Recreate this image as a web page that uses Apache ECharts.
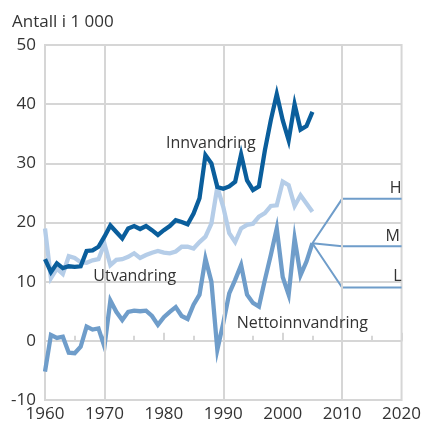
<!DOCTYPE html>
<html>
<head>
<meta charset="utf-8">
<script src="https://cdn.jsdelivr.net/npm/echarts@6/dist/echarts.min.js"></script>
<style>
html,body{margin:0;padding:0;background:#fff;}
#chart{width:424px;height:427px;}
</style>
</head>
<body>
<div id="chart"></div>
<script>
const years = [1960,1961,1962,1963,1964,1965,1966,1967,1968,1969,1970,1971,1972,1973,1974,1975,1976,1977,1978,1979,1980,1981,1982,1983,1984,1985,1986,1987,1988,1989,1990,1991,1992,1993,1994,1995,1996,1997,1998,1999,2000,2001,2002,2003,2004,2005];
const innvandring = [13.8,11.6,13.1,12.3,12.6,12.5,12.6,15.2,15.3,15.9,17.6,19.5,18.4,17.3,19.0,19.4,18.9,19.4,18.7,17.9,18.7,19.4,20.4,20.1,19.7,21.5,24.1,31.4,30.0,26.0,25.7,26.1,26.9,31.5,27.1,25.5,26.1,32.2,37.3,41.7,37.3,33.9,40.0,35.7,36.3,38.7];
const utvandring = [19.0,10.6,12.2,11.3,14.3,14.0,13.3,13.2,13.6,13.8,16.4,12.8,13.7,13.8,14.2,14.8,14.0,14.5,14.9,15.2,14.9,14.8,15.1,15.9,15.9,15.6,16.7,17.6,19.8,26.0,22.6,18.2,16.7,19.0,19.6,19.8,21.0,21.6,22.8,22.9,26.9,26.3,22.8,24.6,23.2,21.8];
const netto = [-5.2,1.0,0.5,0.7,-2.0,-2.1,-1.0,2.4,1.9,2.1,-1.0,6.8,4.9,3.5,4.9,5.1,5.0,5.1,4.2,2.7,4.0,4.9,5.7,4.2,3.7,6.1,7.8,13.9,10.0,-1.5,3.0,8.0,10.3,12.8,7.8,6.4,5.8,10.3,14.5,19.0,10.8,7.8,17.3,11.1,13.4,16.5];
const projYears = [2005,2010,2020];
const projH = [16.5,24,24];
const projM = [16.5,16,16];
const projL = [16.5,9,9];
const xTicks = [1960,1970,1980,1990,2000,2010,2020];
const yTicks = [-10,0,10,20,30,40,50];
const vGridYears = [1970,1990,2010];

const pair = (xs, ys) => xs.map((x,i)=>[x, ys[i]]);
const C_DARK = '#0a5e9c', C_LIGHT = '#b5cde8', C_MID = '#6f9dca';
const GRAY = '#d6d6d6', TXT = '#333333';
const FONT = '"Open Sans", "DejaVu Sans", sans-serif';

function textPoint(name, x, y, align){
  return {coord:[x,y], symbol:'circle', symbolSize:0,
    label:{show:true, position:'inside', formatter:name, color:TXT, fontSize:16, fontFamily:FONT, align:align||'center', verticalAlign:'middle'}};
}

const chart = echarts.init(document.getElementById('chart'), null, {renderer:'canvas'});
chart.setOption({
  animation:false,
  backgroundColor:'#fff',
  title:{text:'Antall i 1 000', left:7, top:9, textStyle:{fontSize:17, fontWeight:'normal', color:TXT, fontFamily:FONT}},
  grid:{left:45, right:21, top:45, bottom:27, show:true, borderColor:GRAY, borderWidth:2, containLabel:false},
  xAxis:{type:'value', min:xTicks[0], max:xTicks[xTicks.length-1], interval:10,
    axisLine:{show:true, lineStyle:{color:GRAY, width:2}},
    axisTick:{show:true, inside:true, length:8, lineStyle:{color:GRAY, width:2}},
    minorTick:{show:true, splitNumber:2, length:5, lineStyle:{color:GRAY, width:2}},
    splitLine:{show:false},
    axisLabel:{color:TXT, fontSize:17, fontFamily:FONT, margin:6, formatter:v=>String(v)}},
  yAxis:{type:'value', min:yTicks[0], max:yTicks[yTicks.length-1], interval:10,
    axisLine:{show:true, lineStyle:{color:GRAY, width:2}},
    axisTick:{show:false},
    splitLine:{show:true, lineStyle:{color:GRAY, width:2}},
    axisLabel:{color:TXT, fontSize:17, fontFamily:FONT, margin:9}},
  series:[
    {type:'line', data:[], z:1, silent:true,
     markLine:{silent:true, symbol:['none','none'], label:{show:false}, lineStyle:{color:GRAY, width:2, type:'solid'},
       data: vGridYears.map(y=>({xAxis:y}))}},
    {name:'H', type:'line', data:pair(projYears,projH), symbol:'none', lineStyle:{color:C_MID, width:2, join:'miter'}, z:3,
     markPoint:{data:[textPoint('H',2020,25.8,'right')]}},
    {name:'M', type:'line', data:pair(projYears,projM), symbol:'none', lineStyle:{color:C_MID, width:2, join:'miter'}, z:3,
     markPoint:{data:[textPoint('M',2019.7,17.7,'right')]}},
    {name:'L', type:'line', data:pair(projYears,projL), symbol:'none', lineStyle:{color:C_MID, width:2, join:'miter'}, z:3,
     markPoint:{data:[textPoint('L',2020,10.8,'right')]}},
    {name:'Nettoinnvandring', type:'line', data:pair(years,netto), symbol:'none', lineStyle:{color:C_MID, width:4.3, join:'miter'}, z:4,
     markPoint:{data:[textPoint('Nettoinnvandring',2003.3,3.0)]}},
    {name:'Utvandring', type:'line', data:pair(years,utvandring), symbol:'none', lineStyle:{color:C_LIGHT, width:4.3, join:'miter'}, z:5,
     markPoint:{data:[textPoint('Utvandring',1975.1,10.8)]}},
    {name:'Innvandring', type:'line', data:pair(years,innvandring), symbol:'none', lineStyle:{color:C_DARK, width:4.3, join:'miter'}, z:6,
     markPoint:{data:[textPoint('Innvandring',1987.9,33.4)]}}
  ]
});
</script>
</body>
</html>
